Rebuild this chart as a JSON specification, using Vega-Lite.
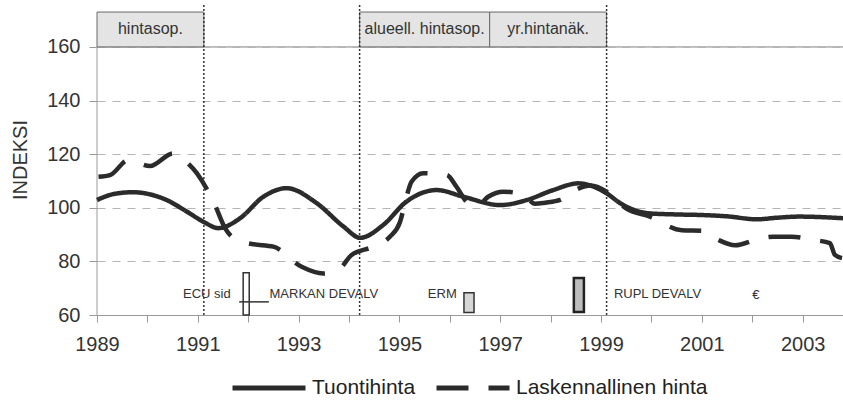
{
  "$schema": "https://vega.github.io/schema/vega-lite/v6.json",
  "width": 746,
  "height": 311,
  "autosize": {"type": "none"},
  "padding": {"left": 97, "top": 4, "right": 0, "bottom": 88},
  "background": "white",
  "config": {
    "view": {"stroke": null},
    "font": "Liberation Sans",
    "text": {"font": "Liberation Sans"}
  },
  "datasets": {
    "series": [
      {"series": "Tuontihinta", "year": 1989.0, "value": 102.9},
      {"series": "Tuontihinta", "year": 1989.35, "value": 105.2},
      {"series": "Tuontihinta", "year": 1989.71, "value": 105.8},
      {"series": "Tuontihinta", "year": 1990.05, "value": 105.0},
      {"series": "Tuontihinta", "year": 1990.38, "value": 102.9},
      {"series": "Tuontihinta", "year": 1990.78, "value": 98.6},
      {"series": "Tuontihinta", "year": 1991.11, "value": 94.8},
      {"series": "Tuontihinta", "year": 1991.41, "value": 92.4},
      {"series": "Tuontihinta", "year": 1991.84, "value": 96.1},
      {"series": "Tuontihinta", "year": 1992.3, "value": 104.1},
      {"series": "Tuontihinta", "year": 1992.76, "value": 107.3},
      {"series": "Tuontihinta", "year": 1993.36, "value": 101.7},
      {"series": "Tuontihinta", "year": 1993.89, "value": 93.0},
      {"series": "Tuontihinta", "year": 1994.22, "value": 88.8},
      {"series": "Tuontihinta", "year": 1994.68, "value": 93.6},
      {"series": "Tuontihinta", "year": 1995.14, "value": 102.3},
      {"series": "Tuontihinta", "year": 1995.74, "value": 106.6},
      {"series": "Tuontihinta", "year": 1996.27, "value": 104.1},
      {"series": "Tuontihinta", "year": 1997.0, "value": 101.0},
      {"series": "Tuontihinta", "year": 1997.53, "value": 102.9},
      {"series": "Tuontihinta", "year": 1998.05, "value": 106.6},
      {"series": "Tuontihinta", "year": 1998.55, "value": 109.1},
      {"series": "Tuontihinta", "year": 1999.11, "value": 105.4},
      {"series": "Tuontihinta", "year": 1999.38, "value": 101.7},
      {"series": "Tuontihinta", "year": 1999.97, "value": 97.9},
      {"series": "Tuontihinta", "year": 2000.5, "value": 97.5},
      {"series": "Tuontihinta", "year": 2000.98, "value": 97.3},
      {"series": "Tuontihinta", "year": 2001.5, "value": 96.8},
      {"series": "Tuontihinta", "year": 2002.09, "value": 95.7},
      {"series": "Tuontihinta", "year": 2002.5, "value": 96.3},
      {"series": "Tuontihinta", "year": 2002.93, "value": 96.7},
      {"series": "Tuontihinta", "year": 2003.8, "value": 96.1},
      {"series": "Laskennallinen hinta", "year": 1989.03, "value": 111.6},
      {"series": "Laskennallinen hinta", "year": 1989.26, "value": 112.2},
      {"series": "Laskennallinen hinta", "year": 1989.62, "value": 117.8},
      {"series": "Laskennallinen hinta", "year": 1990.05, "value": 115.6},
      {"series": "Laskennallinen hinta", "year": 1990.51, "value": 120.3},
      {"series": "Laskennallinen hinta", "year": 1990.68, "value": 118.5},
      {"series": "Laskennallinen hinta", "year": 1990.98, "value": 112.9},
      {"series": "Laskennallinen hinta", "year": 1991.34, "value": 101.0},
      {"series": "Laskennallinen hinta", "year": 1991.54, "value": 92.4},
      {"series": "Laskennallinen hinta", "year": 1991.77, "value": 88.0},
      {"series": "Laskennallinen hinta", "year": 1992.07, "value": 86.5},
      {"series": "Laskennallinen hinta", "year": 1992.5, "value": 85.5},
      {"series": "Laskennallinen hinta", "year": 1993.06, "value": 78.0},
      {"series": "Laskennallinen hinta", "year": 1993.49, "value": 75.5},
      {"series": "Laskennallinen hinta", "year": 1993.82, "value": 77.4},
      {"series": "Laskennallinen hinta", "year": 1994.05, "value": 82.4},
      {"series": "Laskennallinen hinta", "year": 1994.48, "value": 85.5},
      {"series": "Laskennallinen hinta", "year": 1994.81, "value": 89.2},
      {"series": "Laskennallinen hinta", "year": 1995.01, "value": 94.6},
      {"series": "Laskennallinen hinta", "year": 1995.14, "value": 104.1},
      {"series": "Laskennallinen hinta", "year": 1995.24, "value": 109.7},
      {"series": "Laskennallinen hinta", "year": 1995.47, "value": 112.9},
      {"series": "Laskennallinen hinta", "year": 1995.94, "value": 112.2},
      {"series": "Laskennallinen hinta", "year": 1996.13, "value": 107.9},
      {"series": "Laskennallinen hinta", "year": 1996.37, "value": 101.7},
      {"series": "Laskennallinen hinta", "year": 1996.56, "value": 101.0},
      {"series": "Laskennallinen hinta", "year": 1996.76, "value": 104.1},
      {"series": "Laskennallinen hinta", "year": 1997.06, "value": 106.0},
      {"series": "Laskennallinen hinta", "year": 1997.46, "value": 104.8},
      {"series": "Laskennallinen hinta", "year": 1997.69, "value": 101.5},
      {"series": "Laskennallinen hinta", "year": 1997.89, "value": 101.9},
      {"series": "Laskennallinen hinta", "year": 1998.19, "value": 102.9},
      {"series": "Laskennallinen hinta", "year": 1998.52, "value": 106.9},
      {"series": "Laskennallinen hinta", "year": 1998.8, "value": 108.3},
      {"series": "Laskennallinen hinta", "year": 1999.11, "value": 106.0},
      {"series": "Laskennallinen hinta", "year": 1999.51, "value": 99.6},
      {"series": "Laskennallinen hinta", "year": 1999.97, "value": 96.7},
      {"series": "Laskennallinen hinta", "year": 2000.6, "value": 91.6},
      {"series": "Laskennallinen hinta", "year": 2001.03, "value": 91.4},
      {"series": "Laskennallinen hinta", "year": 2001.33, "value": 88.0},
      {"series": "Laskennallinen hinta", "year": 2001.66, "value": 86.0},
      {"series": "Laskennallinen hinta", "year": 2002.09, "value": 88.2},
      {"series": "Laskennallinen hinta", "year": 2002.42, "value": 89.2},
      {"series": "Laskennallinen hinta", "year": 2002.78, "value": 89.2},
      {"series": "Laskennallinen hinta", "year": 2003.21, "value": 88.0},
      {"series": "Laskennallinen hinta", "year": 2003.54, "value": 86.8},
      {"series": "Laskennallinen hinta", "year": 2003.64, "value": 82.4},
      {"series": "Laskennallinen hinta", "year": 2003.78, "value": 81.2}
    ],
    "boxes": [
      {"label": "hintasop.", "start": 1989.0, "end": 1991.12, "center": 1990.06},
      {"label": "alueell. hintasop.", "start": 1994.21, "end": 1996.79, "center": 1995.5},
      {"label": "yr.hintanäk.", "start": 1996.79, "end": 1999.11, "center": 1997.95}
    ],
    "vlines": [
      {"year": 1991.12},
      {"year": 1994.21},
      {"year": 1999.11}
    ],
    "notes": [
      {"label": "ECU sid", "year": 1991.18, "value": 68.0},
      {"label": "MARKAN DEVALV", "year": 1993.5, "value": 68.0},
      {"label": "ERM", "year": 1995.85, "value": 68.0},
      {"label": "RUPL DEVALV", "year": 2000.12, "value": 68.0},
      {"label": "€", "year": 2002.07, "value": 67.5}
    ],
    "markers": [
      {"name": "markka", "start": 1991.9, "end": 1992.02, "low": 60, "high": 75.8},
      {"name": "erm", "start": 1996.28, "end": 1996.48, "low": 60.9, "high": 68.3},
      {"name": "rupl", "start": 1998.46, "end": 1998.66, "low": 61.1, "high": 73.8}
    ],
    "hline": [
      {"start": 1991.82, "end": 1992.41, "value": 64.9}
    ]
  },
  "layer": [
    {
      "data": {"name": "series"},
      "transform": [{"filter": "datum.year == 1989.0"}],
      "mark": {"type": "rule", "color": "#9a9a9a", "strokeWidth": 1},
      "encoding": {
        "x": {"field": "year", "type": "quantitative", "title": null},
        "y": {"datum": 60, "type": "quantitative", "title": "INDEKSI"},
        "y2": {"datum": 160}
      }
    },
    {
      "data": {"name": "vlines"},
      "mark": {"type": "rule", "color": "#b5b5b5", "strokeWidth": 1},
      "encoding": {
        "x": {"datum": 1989.0, "type": "quantitative", "title": null},
        "x2": {"datum": 2003.8},
        "y": {"datum": 160, "type": "quantitative", "title": "INDEKSI"}
      }
    },
    {
      "data": {"name": "series"},
      "mark": {"type": "line", "interpolate": "monotone", "strokeWidth": 4.5, "color": "#2b2b2b", "strokeCap": "butt"},
      "encoding": {
        "x": {
          "field": "year", "type": "quantitative", "title": null,
          "scale": {"domain": [1989, 2003.8], "nice": false, "zero": false},
          "axis": {
            "title": null,
            "values": [1989, 1990, 1991, 1992, 1993, 1994, 1995, 1996, 1997, 1998, 1999, 2000, 2001, 2002, 2003],
            "labelExpr": "datum.value % 2 == 1 ? format(datum.value, 'd') : ''",
            "grid": false,
            "domain": true,
            "domainColor": "#9a9a9a",
            "ticks": true,
            "tickColor": "#9a9a9a",
            "tickSize": 7,
            "labels": true,
            "labelFontSize": 20,
            "labelColor": "#333",
            "labelPadding": 12,
            "labelFont": "Liberation Sans",
            "labelOverlap": false,
            "labelFlush": false
          }
        },
        "y": {
          "field": "value", "type": "quantitative", "title": "INDEKSI",
          "scale": {"domain": [60, 176], "nice": false, "zero": false},
          "axis": {
            "title": "INDEKSI",
            "titleFontSize": 20,
            "titleFontWeight": "normal",
            "titleColor": "#333",
            "titleFont": "Liberation Sans",
            "titlePadding": 16,
            "values": [60, 80, 100, 120, 140, 160],
            "domain": false,
            "grid": true,
            "gridColor": "#b5b5b5",
            "gridDash": [8, 7],
            "ticks": true,
            "tickColor": "#9a9a9a",
            "tickSize": 8,
            "labels": true,
            "labelFontSize": 20,
            "labelColor": "#333",
            "labelPadding": 9,
            "labelFont": "Liberation Sans"
          }
        },
        "detail": {"field": "series"},
        "strokeDash": {
          "field": "series", "type": "nominal",
          "scale": {"domain": ["Tuontihinta", "Laskennallinen hinta"], "range": [[1, 0], [32, 20]]},
          "legend": {
            "orient": "none",
            "legendX": 133,
            "legendY": 345,
            "direction": "horizontal",
            "title": null,
            "symbolType": "stroke",
            "symbolSize": 5329,
            "symbolStrokeWidth": 5,
            "symbolStrokeColor": "#2b2b2b",
            "labelFontSize": 21,
            "labelColor": "#222",
            "labelFont": "Liberation Sans",
            "labelOffset": 4,
            "labelLimit": 400,
            "columnPadding": 10,
            "padding": 0
          }
        }
      }
    },
    {
      "data": {"name": "boxes"},
      "mark": {"type": "rect", "fill": "#e4e4e4", "stroke": "#6a6a6a", "strokeWidth": 1},
      "encoding": {
        "x": {"field": "start", "type": "quantitative", "title": null},
        "x2": {"field": "end"},
        "y": {"datum": 160, "type": "quantitative", "title": "INDEKSI"},
        "y2": {"datum": 173}
      }
    },
    {
      "data": {"name": "boxes"},
      "mark": {"type": "text", "fontSize": 16, "color": "#333", "align": "center", "baseline": "middle", "font": "Liberation Sans"},
      "encoding": {
        "x": {"field": "center", "type": "quantitative", "title": null},
        "y": {"datum": 166.5, "type": "quantitative", "title": "INDEKSI"},
        "text": {"field": "label"}
      }
    },
    {
      "data": {"name": "vlines"},
      "mark": {"type": "rule", "color": "#333", "strokeWidth": 1.5, "strokeDash": [2, 2]},
      "encoding": {
        "x": {"field": "year", "type": "quantitative", "title": null},
        "y": {"datum": 60, "type": "quantitative", "title": "INDEKSI"},
        "y2": {"datum": 176}
      }
    },
    {
      "data": {"name": "notes"},
      "mark": {"type": "text", "fontSize": 13, "color": "#333", "align": "center", "baseline": "middle", "font": "Liberation Sans"},
      "encoding": {
        "x": {"field": "year", "type": "quantitative", "title": null},
        "y": {"field": "value", "type": "quantitative", "title": "INDEKSI"},
        "text": {"field": "label"}
      }
    },
    {
      "data": {"name": "markers"},
      "transform": [{"filter": "datum.name == 'markka'"}],
      "mark": {"type": "rect", "fill": "#ffffff", "stroke": "#333", "strokeWidth": 1.5},
      "encoding": {
        "x": {"field": "start", "type": "quantitative", "title": null},
        "x2": {"field": "end"},
        "y": {"field": "low", "type": "quantitative", "title": "INDEKSI"},
        "y2": {"field": "high"}
      }
    },
    {
      "data": {"name": "markers"},
      "transform": [{"filter": "datum.name == 'erm'"}],
      "mark": {"type": "rect", "fill": "#d6d6d6", "stroke": "#333", "strokeWidth": 1.5},
      "encoding": {
        "x": {"field": "start", "type": "quantitative", "title": null},
        "x2": {"field": "end"},
        "y": {"field": "low", "type": "quantitative", "title": "INDEKSI"},
        "y2": {"field": "high"}
      }
    },
    {
      "data": {"name": "markers"},
      "transform": [{"filter": "datum.name == 'rupl'"}],
      "mark": {"type": "rect", "fill": "#bdbdbd", "stroke": "#222", "strokeWidth": 2.5},
      "encoding": {
        "x": {"field": "start", "type": "quantitative", "title": null},
        "x2": {"field": "end"},
        "y": {"field": "low", "type": "quantitative", "title": "INDEKSI"},
        "y2": {"field": "high"}
      }
    },
    {
      "data": {"name": "hline"},
      "mark": {"type": "rule", "color": "#333", "strokeWidth": 1.5},
      "encoding": {
        "x": {"field": "start", "type": "quantitative", "title": null},
        "x2": {"field": "end"},
        "y": {"field": "value", "type": "quantitative", "title": "INDEKSI"}
      }
    }
  ]
}
